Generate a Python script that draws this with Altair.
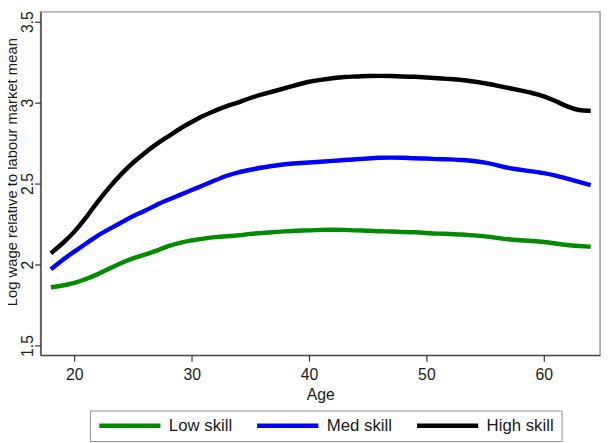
import altair as alt
import pandas as pd

ages = list(range(18, 65))
low_skill = [1.86, 1.87, 1.885, 1.91, 1.94, 1.975, 2.01, 2.04, 2.06, 2.085,
             2.115, 2.135, 2.15, 2.16, 2.17, 2.175, 2.18, 2.19, 2.195, 2.20,
             2.205, 2.21, 2.21, 2.215, 2.215, 2.215, 2.21, 2.21, 2.205, 2.205,
             2.20, 2.20, 2.195, 2.19, 2.19, 2.185, 2.18, 2.175, 2.165, 2.155,
             2.15, 2.145, 2.14, 2.13, 2.12, 2.115, 2.11]
med_skill = [1.97, 2.03, 2.08, 2.13, 2.18, 2.22, 2.26, 2.30, 2.33, 2.37,
             2.40, 2.43, 2.46, 2.49, 2.52, 2.55, 2.57, 2.585, 2.60, 2.61,
             2.62, 2.625, 2.63, 2.635, 2.64, 2.645, 2.65, 2.655, 2.66, 2.66,
             2.66, 2.655, 2.655, 2.65, 2.65, 2.645, 2.64, 2.63, 2.615, 2.595,
             2.585, 2.575, 2.565, 2.55, 2.53, 2.51, 2.49]
high_skill = [2.07, 2.13, 2.20, 2.29, 2.39, 2.48, 2.56, 2.63, 2.69, 2.745,
              2.79, 2.84, 2.88, 2.92, 2.95, 2.98, 3.00, 3.03, 3.05, 3.07,
              3.09, 3.11, 3.13, 3.14, 3.15, 3.16, 3.16, 3.165, 3.165, 3.165,
              3.16, 3.16, 3.155, 3.15, 3.145, 3.14, 3.13, 3.12, 3.105, 3.09,
              3.075, 3.06, 3.04, 3.01, 2.975, 2.95, 2.95]

series_names = ["Low skill", "Med skill", "High skill"]
series_colors = ["#008a00", "#0000ff", "#000000"]
x_ticks = [20, 30, 40, 50, 60]
y_ticks = [1.5, 2, 2.5, 3, 3.5]

rows = []
for name, vals in zip(series_names, [low_skill, med_skill, high_skill]):
    for a, v in zip(ages, vals):
        rows.append({"Age": a, "Wage": v, "Series": name})
df = pd.DataFrame(rows)

FONT = "Liberation Sans"
TXT = "#1a1a1a"

chart = alt.Chart(df).mark_line(strokeWidth=4.5, interpolate="basis").encode(
    x=alt.X("Age:Q",
            scale=alt.Scale(domain=[17.12, 64.8], nice=False, zero=False),
            axis=alt.Axis(values=x_ticks, title="Age", grid=False,
                          tickSize=6, labelPadding=6, titlePadding=4)),
    y=alt.Y("Wage:Q",
            scale=alt.Scale(domain=[1.44, 3.56], nice=False, zero=False),
            axis=alt.Axis(values=y_ticks, format="~g",
                          title="Log wage relative to labour market mean",
                          grid=False, tickSize=6, labelAngle=270,
                          labelAlign="center", labelBaseline="middle",
                          labelPadding=7, titleX=-29, titleY=162,
                          titleBaseline="middle", titleFontSize=15)),
    color=alt.Color("Series:N",
                    scale=alt.Scale(domain=series_names, range=series_colors),
                    sort=series_names,
                    legend=alt.Legend(title=None, orient="none", direction="horizontal",
                                      legendX=50, legendY=404,
                                      symbolType="stroke", symbolSize=3844,
                                      symbolStrokeWidth=4.5, clipHeight=17,
                                      labelOffset=6, columnPadding=22,
                                      padding=7, strokeColor="#8a8a8a",
                                      fillColor="white",
                                      labelFontSize=17, labelFont=FONT,
                                      labelColor=TXT)),
    order=alt.Order("Series:N"),
).properties(
    width=567, height=348,
    autosize=alt.AutoSizeParams(type="none"),
    padding={"left": 33, "top": 1, "right": 4, "bottom": 86},
).configure_view(
    stroke="#9a9a9a", strokeWidth=1.5
).configure_axis(
    labelFont=FONT, titleFont=FONT, labelFontSize=16, titleFontSize=16,
    titleFontWeight="normal", labelColor=TXT, titleColor=TXT,
    domainColor="#333333", tickColor="#333333", domainWidth=1.2, tickWidth=1.2,
)

chart.save("out.html", embed_options={"renderer": "svg", "actions": False})
